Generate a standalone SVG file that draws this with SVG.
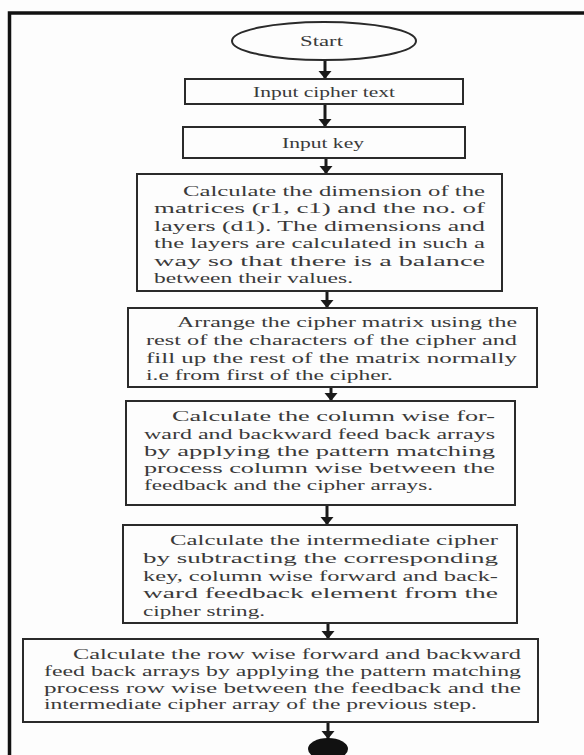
<svg xmlns="http://www.w3.org/2000/svg" width="584" height="755" viewBox="0 0 584 755">
<style>
.bg{fill:#fdfdfd}
.frame{fill:none;stroke:#111;stroke-width:3.5}
.box{fill:#fdfdfd;stroke:#2a2a2a;stroke-width:2}
.t{font-family:"Liberation Serif","Times New Roman",serif;font-size:15px;fill:#3a3a3a}
.c{stroke:#1a1a1a;stroke-width:3;fill:none}
</style>
<defs>
<marker id="ah" markerUnits="userSpaceOnUse" viewBox="0 -7 8 14" refX="8" refY="0" markerWidth="8" markerHeight="14" orient="auto">
<path d="M0,-6.5 L8,0 L0,6.5 Z" fill="#1a1a1a"/>
</marker>
</defs>
<rect class="bg" x="0" y="0" width="584" height="755"/>
<path class="frame" d="M9.5,760 L9.5,13 L590,13"/>

<g id="connectors">
<line class="c" x1="325" y1="60" x2="325" y2="79" marker-end="url(#ah)"/>
<line class="c" x1="325" y1="104" x2="325" y2="127" marker-end="url(#ah)"/>
<line class="c" x1="326" y1="158" x2="326" y2="174" marker-end="url(#ah)"/>
<line class="c" x1="327" y1="291" x2="327" y2="308" marker-end="url(#ah)"/>
<line class="c" x1="331" y1="387" x2="331" y2="401" marker-end="url(#ah)"/>
<line class="c" x1="327" y1="505" x2="327" y2="525" marker-end="url(#ah)"/>
<line class="c" x1="328" y1="623" x2="328" y2="639" marker-end="url(#ah)"/>
<line class="c" x1="328" y1="722" x2="328" y2="739" marker-end="url(#ah)"/>
</g>

<g id="start">
<ellipse class="box" cx="324" cy="41" rx="92" ry="19"/>
<text class="t" x="300" y="46" textLength="43" lengthAdjust="spacingAndGlyphs">Start</text>
</g>

<g id="input-cipher">
<rect class="box" x="185" y="79" width="278" height="25"/>
<text class="t" x="253" y="96.5" textLength="142" lengthAdjust="spacingAndGlyphs">Input cipher text</text>
</g>

<g id="input-key">
<rect class="box" x="183" y="127" width="282" height="31"/>
<text class="t" x="282" y="147.5" textLength="82" lengthAdjust="spacingAndGlyphs">Input key</text>
</g>

<g id="calc-dimension">
<rect class="box" x="137" y="174" width="365" height="117"/>
<text class="t" x="183" y="195.5" textLength="302" lengthAdjust="spacingAndGlyphs">Calculate the dimension of the</text>
<text class="t" x="154" y="213" textLength="331" lengthAdjust="spacingAndGlyphs">matrices (r1, c1) and the no. of</text>
<text class="t" x="154" y="230.5" textLength="331" lengthAdjust="spacingAndGlyphs">layers (d1). The dimensions and</text>
<text class="t" x="154" y="248" textLength="331" lengthAdjust="spacingAndGlyphs">the layers are calculated in such a</text>
<text class="t" x="154" y="265.5" textLength="331" lengthAdjust="spacingAndGlyphs">way so that there is a balance</text>
<text class="t" x="154" y="283" textLength="199" lengthAdjust="spacingAndGlyphs">between their values.</text>
</g>

<g id="arrange">
<rect class="box" x="128" y="308" width="409" height="79"/>
<text class="t" x="177" y="327" textLength="340" lengthAdjust="spacingAndGlyphs">Arrange the cipher matrix using the</text>
<text class="t" x="146" y="345" textLength="371" lengthAdjust="spacingAndGlyphs">rest of the characters of the cipher and</text>
<text class="t" x="146" y="362.5" textLength="371" lengthAdjust="spacingAndGlyphs">fill up the rest of the matrix normally</text>
<text class="t" x="146" y="380" textLength="247" lengthAdjust="spacingAndGlyphs">i.e from first of the cipher.</text>
</g>

<g id="column-feedback">
<rect class="box" x="126" y="401" width="389" height="104"/>
<text class="t" x="172" y="421" textLength="323" lengthAdjust="spacingAndGlyphs">Calculate the column wise for-</text>
<text class="t" x="144" y="438.5" textLength="351" lengthAdjust="spacingAndGlyphs">ward and backward feed back arrays</text>
<text class="t" x="144" y="455.5" textLength="351" lengthAdjust="spacingAndGlyphs">by applying the pattern matching</text>
<text class="t" x="144" y="472.5" textLength="351" lengthAdjust="spacingAndGlyphs">process column wise between the</text>
<text class="t" x="144" y="490" textLength="289" lengthAdjust="spacingAndGlyphs">feedback and the cipher arrays.</text>
</g>

<g id="intermediate">
<rect class="box" x="123" y="525" width="394" height="98"/>
<text class="t" x="170" y="545" textLength="328" lengthAdjust="spacingAndGlyphs">Calculate the intermediate cipher</text>
<text class="t" x="143" y="563" textLength="355" lengthAdjust="spacingAndGlyphs">by subtracting the corresponding</text>
<text class="t" x="143" y="580.5" textLength="355" lengthAdjust="spacingAndGlyphs">key, column wise forward and back-</text>
<text class="t" x="143" y="598" textLength="355" lengthAdjust="spacingAndGlyphs">ward feedback element from the</text>
<text class="t" x="143" y="615.5" textLength="122" lengthAdjust="spacingAndGlyphs">cipher string.</text>
</g>

<g id="row-feedback">
<rect class="box" x="23" y="639" width="515" height="83"/>
<text class="t" x="73" y="659" textLength="448" lengthAdjust="spacingAndGlyphs">Calculate the row wise forward and backward</text>
<text class="t" x="44" y="676" textLength="477" lengthAdjust="spacingAndGlyphs">feed back arrays by applying the pattern matching</text>
<text class="t" x="44" y="692.5" textLength="477" lengthAdjust="spacingAndGlyphs">process row wise between the feedback and the</text>
<text class="t" x="44" y="709" textLength="433" lengthAdjust="spacingAndGlyphs">intermediate cipher array of the previous step.</text>
</g>

<g id="end">
<ellipse cx="328" cy="749" rx="20" ry="11" fill="#111"/>
</g>
</svg>
